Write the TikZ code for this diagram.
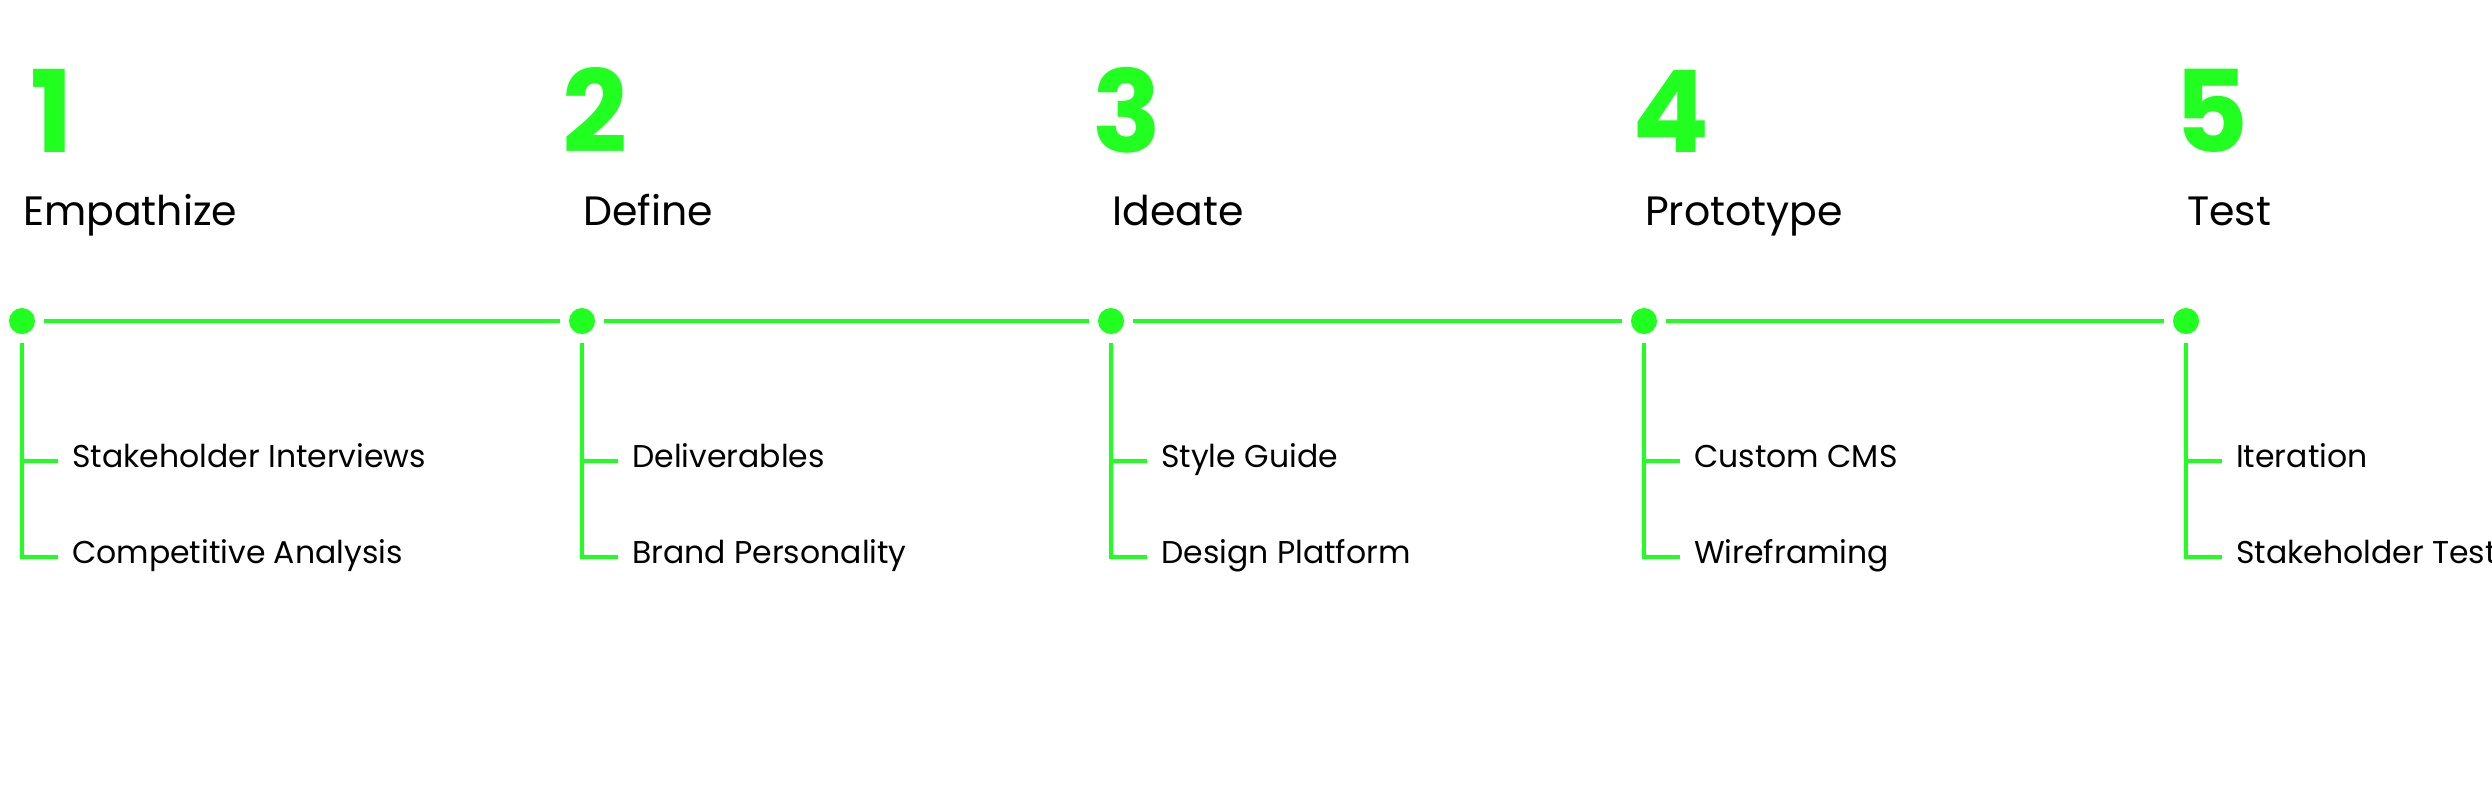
\documentclass[tikz,border=0pt]{standalone}
\usepackage{fontspec}
\setmainfont{Poppins}
\usepackage{tikz}

\definecolor{limegreen}{HTML}{20FF20}

\begin{document}
\begin{tikzpicture}[x=1pt,y=-1pt,
    dot/.style={circle,fill=limegreen,inner sep=0pt,minimum size=26pt},
    rail/.style={draw=limegreen,line width=3.3pt},
    num/.style={anchor=base west,inner sep=0pt,text=limegreen,
      font=\fontsize{114}{114}\selectfont\bfseries},
    phase/.style={anchor=base west,inner sep=0pt,font=\fontsize{41}{41}\selectfont},
    task/.style={anchor=mid west,inner sep=0pt,font=\fontsize{31.5}{31.5}\selectfont}]
      \useasboundingbox (0,0) rectangle (2492,792);
      % phase dots on the timeline
      \node[dot] (p1) at (22,321) {};
      \node[dot] (p2) at (582,321) {};
      \node[dot] (p3) at (1111,321) {};
      \node[dot] (p4) at (1644,321) {};
      \node[dot] (p5) at (2186,321) {};
      \draw[rail,shorten <=9pt,shorten >=9pt] (p1) -- (p2);
      \draw[rail,shorten <=9pt,shorten >=9pt] (p2) -- (p3);
      \draw[rail,shorten <=9pt,shorten >=9pt] (p3) -- (p4);
      \draw[rail,shorten <=9pt,shorten >=9pt] (p4) -- (p5);
      % numbers and phase names
      \node[num] (n1) at (30,152) {1};
      \node[num] (n2) at (562,152) {2};
      \node[num] (n3) at (1092,152) {3};
      \node[num] (n4) at (1632,152) {4};
      \node[num] (n5) at (2174,152) {5};
      \node[phase] (h1) at (23,225) {Empathize};
      \node[phase] (h2) at (583,225) {Define};
      \node[phase] (h3) at (1112,225) {Ideate};
      \node[phase] (h4) at (1645,225) {Prototype};
      \node[phase] (h5) at (2187,225) {Test};
      % tasks under each phase
      \coordinate (m1) at (22,461);   \coordinate (e1) at (22,557);
      \coordinate (m2) at (582,461);  \coordinate (e2) at (582,557);
      \coordinate (m3) at (1111,461); \coordinate (e3) at (1111,557);
      \coordinate (m4) at (1644,461); \coordinate (e4) at (1644,557);
      \coordinate (m5) at (2186,461); \coordinate (e5) at (2186,557);
      \node[task] (a1) at (72,465) {Stakeholder Interviews};
      \node[task] (b1) at (72,561) {Competitive Analysis};
      \node[task] (a2) at (632,465) {Deliverables};
      \node[task] (b2) at (632,561) {Brand Personality};
      \node[task] (a3) at (1161,465) {Style Guide};
      \node[task] (b3) at (1161,561) {Design Platform};
      \node[task] (a4) at (1694,465) {Custom CMS};
      \node[task] (b4) at (1694,561) {Wireframing};
      \node[task] (a5) at (2236,465) {Iteration};
      \node[task] (b5) at (2236,561) {Stakeholder Test};
      \draw[rail,shorten <=9pt,shorten >=14pt] (p1) -- (e1) -- (b1.mid west |- e1);
      \draw[rail,shorten <=9pt,shorten >=14pt] (p2) -- (e2) -- (b2.mid west |- e2);
      \draw[rail,shorten <=9pt,shorten >=14pt] (p3) -- (e3) -- (b3.mid west |- e3);
      \draw[rail,shorten <=9pt,shorten >=14pt] (p4) -- (e4) -- (b4.mid west |- e4);
      \draw[rail,shorten <=9pt,shorten >=14pt] (p5) -- (e5) -- (b5.mid west |- e5);
      \draw[rail,shorten >=14pt] (m1) -- (a1.mid west |- m1);
      \draw[rail,shorten >=14pt] (m2) -- (a2.mid west |- m2);
      \draw[rail,shorten >=14pt] (m3) -- (a3.mid west |- m3);
      \draw[rail,shorten >=14pt] (m4) -- (a4.mid west |- m4);
      \draw[rail,shorten >=14pt] (m5) -- (a5.mid west |- m5);
\end{tikzpicture}
\end{document}
